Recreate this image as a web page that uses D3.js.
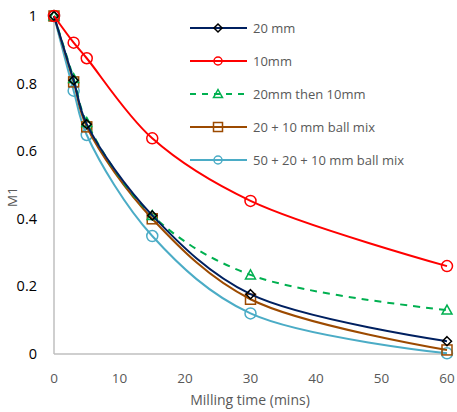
<!DOCTYPE html>
<html><head><meta charset="utf-8">
<script src="https://cdn.jsdelivr.net/npm/d3@7"></script>
<style>body{margin:0;background:#fff}svg{display:block}text{font-family:"Open Sans",sans-serif}</style>
</head><body><svg id="c" width="457" height="412"></svg>
<script>
const times = [0, 3, 5, 15, 30, 60];
const xTicks = [0, 10, 20, 30, 40, 50, 60];
const yTicks = [0, 0.2, 0.4, 0.6, 0.8, 1];
const names = ["20 mm", "10mm", "20mm then 10mm", "20 + 10 mm ball mix", "50 + 20 + 10 mm ball mix"];
const s20 = [1, 0.81, 0.68, 0.41, 0.177, 0.038];
const s10 = [1, 0.921, 0.875, 0.638, 0.453, 0.26];
const s20then10 = [1, 0.815, 0.685, 0.41, 0.234, 0.13];
const s20p10 = [1, 0.805, 0.672, 0.40, 0.162, 0.012];
const s50p20p10 = [1, 0.779, 0.648, 0.349, 0.12, 0.002];
const seriesVals = [s20, s10, s20then10, s20p10, s50p20p10];
const styles = [
  {line:"#002060", mk:"#000000", shape:"diamond", dash:null},
  {line:"#ff0000", mk:"#ff0000", shape:"circle", dash:null},
  {line:"#00b050", mk:"#00b050", shape:"triangle", dash:"7,6"},
  {line:"#9c4a00", mk:"#9c4a00", shape:"square", dash:null},
  {line:"#4bacc6", mk:"#4bacc6", shape:"circle", dash:null}
];
const order = [4,3,2,0,1];
const svg = d3.select("#c");
const x = d3.scaleLinear().domain([0,60]).range([54,447]);
const y = d3.scaleLinear().domain([0,1]).range([354,16]);

// axes
svg.append("line").attr("x1",x(0)).attr("x2",x(60)).attr("y1",y(0)).attr("y2",y(0)).attr("stroke","#bfbfbf").attr("stroke-width",1.5);
svg.append("line").attr("x1",x(0)).attr("x2",x(0)).attr("y1",y(0)).attr("y2",y(1)).attr("stroke","#bfbfbf").attr("stroke-width",1.5);
svg.selectAll(".xt").data(xTicks).enter().append("text").attr("x",d=>x(d)).attr("y",383).attr("text-anchor","middle").attr("font-size",13.5).attr("fill","#595959").text(d=>d);
svg.selectAll(".yt").data(yTicks).enter().append("text").attr("x",37).attr("y",d=>y(d)+5).attr("text-anchor","end").attr("font-size",14.5).attr("fill","#000").text(d=>d);
svg.append("text").attr("transform","translate(17,197) rotate(-90)").attr("text-anchor","middle").attr("font-size",13.5).attr("fill","#595959").text("M1");
svg.append("text").attr("x",250).attr("y",405).attr("text-anchor","middle").attr("font-size",14).attr("fill","#595959").text("Milling time (mins)");

function marker(g, shape, cx, cy, col, sz){
  if(shape==="circle") g.append("circle").attr("cx",cx).attr("cy",cy).attr("r",sz).attr("fill","none").attr("stroke",col).attr("stroke-width",1.5);
  else if(shape==="square") g.append("rect").attr("x",cx-sz).attr("y",cy-sz).attr("width",2*sz).attr("height",2*sz).attr("fill","none").attr("stroke",col).attr("stroke-width",1.5);
  else if(shape==="diamond") g.append("path").attr("d",`M${cx},${cy-sz}L${cx+sz},${cy}L${cx},${cy+sz}L${cx-sz},${cy}Z`).attr("fill","none").attr("stroke",col).attr("stroke-width",1.5);
  else if(shape==="triangle") g.append("path").attr("d",`M${cx},${cy-sz}L${cx+sz},${cy+sz*0.8}L${cx-sz},${cy+sz*0.8}Z`).attr("fill","none").attr("stroke",col).attr("stroke-width",1.5);
}
const line = d3.line().x(d=>x(d[0])).y(d=>y(d[1])).curve(d3.curveCatmullRom.alpha(0.5));
order.forEach(i=>{
  const st = styles[i];
  const pts = times.map((t,j)=>[t, seriesVals[i][j]]);
  svg.append("path").attr("d",line(pts)).attr("fill","none").attr("stroke",st.line).attr("stroke-width",2).attr("stroke-dasharray",st.dash);
  const g = svg.append("g");
  const sz = st.shape==="circle"?5.5:(st.shape==="diamond"?4.5:5);
  pts.forEach(p=>marker(g, st.shape, x(p[0]), y(p[1]), st.mk, sz));
});
// legend
names.forEach((n,i)=>{
  const st = styles[i];
  const ly = 28 + i*33;
  svg.append("line").attr("x1",190).attr("x2",247).attr("y1",ly).attr("y2",ly).attr("stroke",st.line).attr("stroke-width",2).attr("stroke-dasharray",st.dash?"6,6":null);
  const g = svg.append("g");
  marker(g, st.shape, 218, ly, st.mk, st.shape==="circle"?4:(st.shape==="diamond"?4:4.5));
  svg.append("text").attr("x",253).attr("y",ly+4.5).attr("font-size",13).attr("fill","#595959").text(n);
});
</script></body></html>
